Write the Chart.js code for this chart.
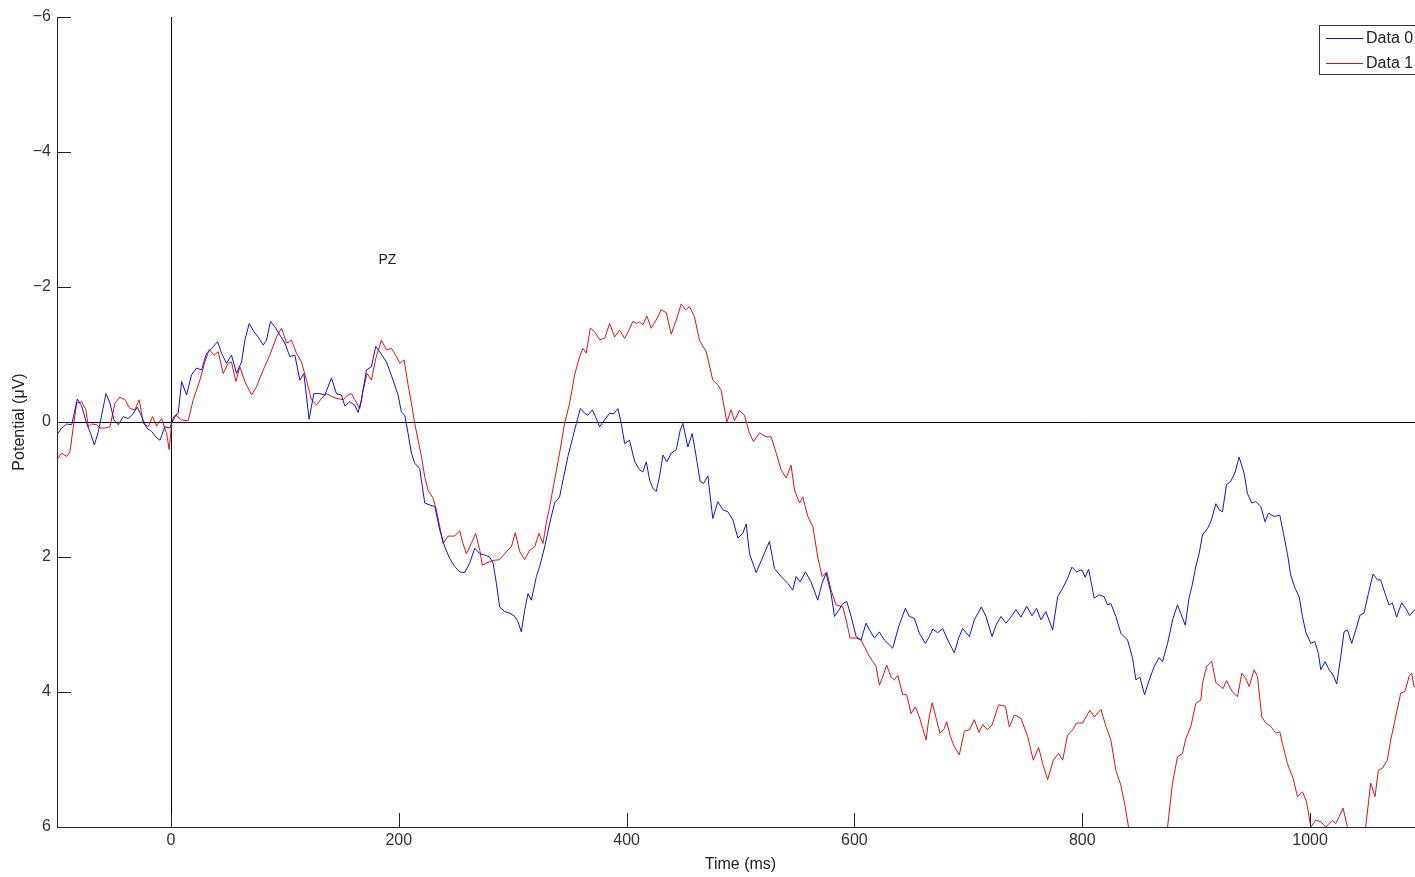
<!DOCTYPE html>
<html>
<head>
<meta charset="utf-8">
<title>PZ</title>
<script src="https://cdn.jsdelivr.net/npm/chart.js@4.4.0/dist/chart.umd.min.js"></script>
<style>
  html, body { margin: 0; padding: 0; background: #fff; overflow: hidden; }
  #wrap { width: 1440px; height: 877px; }
</style>
</head>
<body>
<div id="wrap"><canvas id="erp" width="1440" height="877"></canvas></div>
<script>
// channel + legend names
var channel = 'PZ';
var seriesNames = ['Data 0', 'Data 1'];

// tick labels
var xTicks = [0, 200, 400, 600, 800, 1000];
var yTicks = [-6, -4, -2, 0, 2, 4, 6];

// Data 0 (blue) - time in ms, potential in uV
var time0 = [-100, -95.9, -91.5, -87.1, -82.2, -78.4, -74, -70.5, -67.2, -63.7, -60.8, -57, -53.5, -50, -46.2, -41.8, -37.4, -33, -29.5, -25.7,
  -21.3, -16.9, -13.2, -9.6, -5.3, -0.9, 2.6, 6.4, 9.4, 13.7, 18.1, 22.5, 26.9, 31.3, 35.7, 41, 44.4, 48.8, 53.2, 57.6,
  62, 64.9, 68.7, 72.8, 76.6, 81, 83.9, 87.4, 91.2, 95.6, 100, 104.4, 108.8, 113.2, 116.7, 121.3, 125.4, 130.7, 135.1, 140.9,
  145.3, 149.7, 152.6, 157, 161.4, 164.3, 167.3, 171.6, 176, 179.8, 183.3, 189.2, 195, 199.4, 202.3, 205.3, 208.2, 211.1, 214, 218.4,
  222.8, 227.2, 231.6, 236, 240.4, 244.7, 249.1, 253.5, 257.9, 262.3, 266.7, 271.1, 275.4, 279.8, 282.8, 285.7, 288.6, 293, 297.4, 301.8,
  304.7, 307.6, 310.5, 313.5, 316.4, 320.8, 323.7, 328.1, 332.5, 336.8, 341.2, 344.2, 348.5, 352.9, 355.9, 359.4, 363.2, 366.1, 369.9, 373.4,
  376.3, 380.7, 385.1, 388.6, 392.4, 395.3, 398.3, 402.6, 407, 411.4, 414.3, 417.3, 420.2, 423.1, 426, 428.9, 431.9, 435.4, 439.2, 443.6,
  447.1, 449.4, 453.8, 457.6, 461.1, 464.6, 467.5, 471.3, 475.7, 480.1, 484.5, 488.9, 493.3, 497.7, 502, 505, 507.9, 513.7, 519.6, 525.4,
  529.8, 535.7, 541.5, 545.9, 548.8, 552.3, 557, 562, 567.8, 571.6, 575.1, 579.5, 582.5, 586.3, 589.8, 593.3, 597.1, 601.5, 605.9, 610.2,
  613.2, 617.5, 621.9, 626.3, 633.6, 638.9, 644.7, 648.2, 652.6, 657, 662.3, 665.8, 668.7, 673.1, 677.5, 681.9, 687.7, 691.5, 695, 700.9,
  705.3, 711.4, 715.5, 720.8, 724.3, 728.7, 733, 737.4, 741.8, 746.2, 751.2, 755.9, 759.9, 763.7, 768.1, 774, 778.4, 782.8, 787.1, 790.9,
  795, 799.7, 802.6, 805.6, 810.5, 814.9, 819.3, 822.2, 825.1, 829.5, 833.9, 839.8, 844.2, 847.1, 850.6, 854.7, 858.8, 863.2, 867.5, 870.5,
  874.9, 879.5, 883.6, 886.6, 890.4, 893.6, 896.2, 899.7, 902.6, 905.6, 909.9, 912.9, 917.3, 920.2, 923.1, 926.6, 930.4, 934.2, 937.7, 942.1,
  945, 948.8, 952.3, 956.7, 960.5, 963.5, 968.4, 973.4, 977.2, 980.1, 983, 986.8, 990.4, 993.3, 996.2, 1000.6, 1004.1, 1007.3, 1009.4, 1013.2,
  1016.7, 1020.2, 1023.4, 1026.9, 1029.8, 1032.8, 1036.6, 1040.1, 1043.9, 1047.4, 1051.2, 1055.3, 1059.1, 1062, 1065.8, 1069.3, 1072.2, 1076, 1080.4, 1083.9,
  1087.4, 1091.2, 1100];
var data0 = [0.19, 0.09, 0.03, 0.04, -0.34, -0.24, 0.02, 0.17, 0.34, 0.14, -0.10, -0.42, -0.28, -0.03, 0.04, -0.08, -0.05, -0.13, -0.22, -0.08,
  0.09, 0.14, 0.22, 0.27, 0.07, 0.09, -0.08, -0.13, -0.60, -0.40, -0.70, -0.80, -0.77, -1.02, -1.09, -1.19, -1.02, -0.87, -0.99, -0.72,
  -0.89, -1.21, -1.46, -1.34, -1.26, -1.14, -1.21, -1.49, -1.41, -1.29, -1.17, -0.97, -0.99, -0.62, -0.72, -0.04, -0.42, -0.42, -0.40, -0.65,
  -0.42, -0.40, -0.24, -0.30, -0.25, -0.14, -0.33, -0.77, -0.82, -1.12, -1.04, -0.89, -0.62, -0.40, -0.15, -0.10, 0.17, 0.46, 0.61, 0.69,
  1.20, 1.23, 1.25, 1.60, 1.85, 2.02, 2.14, 2.22, 2.23, 2.09, 1.87, 1.95, 1.97, 2.00, 2.09, 2.39, 2.74, 2.81, 2.83, 2.88,
  2.96, 3.11, 2.79, 2.54, 2.64, 2.29, 2.14, 1.85, 1.50, 1.20, 1.11, 0.86, 0.51, 0.22, 0.02, -0.20, -0.13, -0.10, -0.18, -0.05,
  0.07, -0.03, -0.13, -0.12, -0.20, 0.02, 0.32, 0.27, 0.58, 0.71, 0.74, 0.59, 0.86, 0.98, 1.03, 0.81, 0.49, 0.59, 0.46, 0.41,
  0.12, 0.02, 0.37, 0.17, 0.51, 0.88, 0.91, 0.80, 1.43, 1.18, 1.30, 1.33, 1.45, 1.72, 1.65, 1.51, 1.95, 2.23, 2.00, 1.77,
  2.17, 2.29, 2.39, 2.49, 2.29, 2.37, 2.22, 2.37, 2.64, 2.39, 2.24, 2.54, 2.88, 2.79, 2.69, 2.66, 2.88, 3.18, 3.23, 2.98,
  3.08, 3.20, 3.11, 3.23, 3.35, 3.03, 2.76, 2.88, 2.91, 3.13, 3.28, 3.18, 3.07, 3.12, 3.06, 3.23, 3.42, 3.20, 3.06, 3.18,
  2.93, 2.74, 2.88, 3.18, 3.01, 2.88, 2.98, 2.89, 2.78, 2.89, 2.73, 2.87, 2.76, 2.93, 2.81, 3.08, 2.59, 2.46, 2.32, 2.15,
  2.22, 2.19, 2.30, 2.18, 2.61, 2.56, 2.59, 2.71, 2.69, 2.88, 3.13, 3.23, 3.50, 3.82, 3.78, 4.04, 3.82, 3.62, 3.49, 3.55,
  3.28, 2.92, 2.71, 2.84, 3.01, 2.62, 2.44, 2.14, 1.95, 1.67, 1.58, 1.48, 1.21, 1.30, 1.33, 0.93, 0.88, 0.74, 0.52, 0.76,
  1.06, 1.20, 1.18, 1.25, 1.48, 1.35, 1.40, 1.38, 1.70, 1.95, 2.27, 2.46, 2.59, 2.88, 3.11, 3.28, 3.25, 3.43, 3.67, 3.55,
  3.67, 3.75, 3.88, 3.48, 3.11, 3.08, 3.28, 3.08, 2.86, 2.83, 2.54, 2.25, 2.34, 2.34, 2.54, 2.71, 2.68, 2.89, 2.68, 2.76,
  2.87, 2.79, 2.75];

// Data 1 (red)
var time1 = [-100, -95.9, -91.5, -88.6, -85.7, -82.7, -78.4, -74.6, -72.5, -69.6, -65.2, -62.3, -57.9, -53.5, -49.1, -44.7, -40.4, -36, -31.6, -27.8,
  -24.3, -19.9, -16.1, -12.6, -8.2, -3.8, -1.5, 0.6, 4.4, 9.4, 15.2, 19.6, 25.4, 29.8, 33.6, 38, 41.5, 45.9, 50.3, 53.2,
  57, 60.5, 64.9, 70.8, 75.1, 81, 86.8, 92.7, 97.1, 101.5, 105.8, 110.2, 114.6, 119, 123.4, 127.8, 132.2, 136.6, 140.9, 145.3,
  151.2, 155, 158.5, 161.4, 165.8, 168.7, 172.2, 176, 179.8, 184.8, 189.2, 193.6, 198, 200.9, 204.7, 208.2, 211.1, 214, 217, 219.9,
  222.8, 225.7, 230.1, 233, 236, 238.9, 243.3, 249.1, 253.5, 256.4, 259.4, 263.7, 267.5, 271.1, 273.4, 276.9, 282.8, 288.6, 294.5, 298.8,
  302.3, 306.2, 310.5, 314.9, 319.3, 323.1, 326.6, 329.5, 332.5, 336.8, 341.2, 345.6, 350, 354.4, 358.8, 361.7, 364.6, 368.1, 371.9, 376.3,
  380.7, 385.1, 389.5, 393.9, 398.3, 402.6, 405.6, 408.5, 411.4, 414.3, 417.8, 421.6, 426, 430.4, 434.8, 439.2, 443.6, 448, 451.8, 455.3,
  459.6, 464, 469.9, 475.7, 480.1, 483, 488, 491.8, 494.7, 499.1, 503.5, 507.9, 511.4, 516.7, 522.5, 526.9, 531.3, 535.7, 540.1, 544.4,
  547.4, 551.8, 554.7, 559.1, 563.5, 567.8, 571.6, 575.7, 579.5, 583.9, 589.8, 592.7, 596.2, 601.4, 605.8, 608.8, 611.7, 616.1, 619, 621.9,
  624.8, 628.3, 632.2, 635.1, 638, 642.4, 645.9, 649.7, 653.5, 657, 659.9, 662.9, 665.2, 668.3, 671.6, 675.1, 678.9, 681, 684.3, 687.7,
  692.1, 696.5, 700.9, 705.2, 709.4, 712.6, 716.5, 720.8, 726.6, 732.5, 736, 740.4, 746.2, 752.1, 757, 761.7, 765.2, 769.6, 774.6, 779.2,
  782.8, 787.1, 791.5, 795, 800.3, 806.7, 810.5, 816.4, 820.8, 825.1, 829.5, 833.9, 837.7, 840.6, 848, 858, 868, 874.9, 879.2, 883.6,
  888, 890.9, 895.3, 899.7, 904.1, 905.6, 909.1, 913.7, 917.3, 921.6, 923.7, 926.6, 931.9, 936.3, 940.1, 943.6, 946.5, 950.9, 953.8, 957.6,
  961.1, 965.5, 969.9, 973.4, 975.7, 980.1, 985.1, 988.9, 993.3, 996.8, 1000.6, 1005, 1009.4, 1013.7, 1019.6, 1022.5, 1025.4, 1028.9, 1032.8, 1040,
  1048.8, 1053.2, 1057, 1059.9, 1063.5, 1067.8, 1070.8, 1075.1, 1079.5, 1083.3, 1086.9, 1089.2, 1091.2, 1100];
var data1 = [0.56, 0.46, 0.51, 0.44, 0.07, -0.28, -0.30, -0.18, 0.07, 0.03, 0.04, 0.09, 0.09, 0.07, -0.28, -0.37, -0.33, -0.20, -0.18, -0.33,
  0.02, 0.07, -0.08, 0.06, -0.05, 0.17, 0.41, 0.02, -0.10, -0.03, -0.02, -0.33, -0.62, -0.89, -1.07, -0.99, -1.04, -0.72, -0.87, -0.89,
  -0.60, -0.82, -0.60, -0.40, -0.52, -0.77, -0.99, -1.26, -1.39, -1.17, -1.21, -1.02, -0.89, -0.62, -0.33, -0.25, -0.35, -0.42, -0.38, -0.35,
  -0.33, -0.40, -0.42, -0.33, -0.20, -0.47, -0.72, -0.62, -0.94, -1.21, -1.07, -1.09, -0.97, -0.87, -0.92, -0.55, -0.28, 0.02, 0.27, 0.51,
  0.81, 1.01, 1.13, 1.30, 1.55, 1.80, 1.69, 1.69, 1.61, 1.80, 1.95, 1.80, 1.65, 1.90, 2.12, 2.09, 2.05, 2.04, 1.92, 1.85,
  1.64, 1.92, 2.04, 1.90, 1.85, 1.65, 1.80, 1.50, 1.25, 0.86, 0.46, 0.02, -0.28, -0.70, -0.97, -1.09, -1.02, -1.39, -1.34, -1.22,
  -1.24, -1.46, -1.26, -1.36, -1.24, -1.38, -1.49, -1.46, -1.48, -1.44, -1.57, -1.39, -1.51, -1.66, -1.62, -1.30, -1.51, -1.75, -1.66, -1.71,
  -1.56, -1.21, -1.04, -0.62, -0.55, -0.47, 0.00, -0.18, -0.02, -0.17, -0.10, 0.17, 0.29, 0.16, 0.22, 0.22, 0.46, 0.71, 0.83, 0.64,
  1.01, 1.20, 1.11, 1.40, 1.55, 2.00, 2.29, 2.22, 2.49, 2.71, 2.74, 2.93, 3.20, 3.20, 3.23, 3.33, 3.43, 3.55, 3.62, 3.90,
  3.78, 3.60, 3.78, 3.82, 3.75, 4.04, 4.04, 4.32, 4.22, 4.37, 4.54, 4.71, 4.41, 4.16, 4.38, 4.61, 4.54, 4.44, 4.66, 4.81,
  4.93, 4.58, 4.56, 4.41, 4.60, 4.48, 4.56, 4.49, 4.19, 4.21, 4.52, 4.34, 4.39, 4.66, 5.01, 4.82, 5.06, 5.30, 5.01, 4.91,
  5.01, 4.64, 4.56, 4.46, 4.46, 4.27, 4.37, 4.26, 4.51, 4.71, 5.16, 5.38, 5.70, 6.00, 6.40, 6.60, 6.40, 6.00, 5.35, 4.96,
  4.91, 4.69, 4.51, 4.17, 4.12, 3.87, 3.62, 3.55, 3.86, 3.92, 3.95, 3.83, 4.00, 4.07, 3.72, 3.80, 3.92, 3.67, 3.77, 4.37,
  4.46, 4.51, 4.61, 4.59, 4.76, 5.06, 5.28, 5.55, 5.48, 5.62, 6.00, 5.90, 5.92, 6.00, 5.90, 5.95, 5.85, 5.72, 6.00, 6.30,
  6.00, 5.35, 5.55, 5.16, 5.13, 5.01, 4.71, 4.37, 4.02, 3.99, 3.77, 3.72, 3.92, 3.90];

var FONT = 'Liberation Sans, Arial, sans-serif';

function toPoints(ts, vs) {
  return ts.map(function (t, i) { return { x: t, y: vs[i] }; });
}

// zero lines, inward ticks, PZ label and the matlab style legend box
var matlabBits = {
  id: 'matlabBits',
  beforeDatasetsDraw: function (chart) {
    var ctx = chart.ctx, a = chart.chartArea;
    var xs = chart.scales.x, ys = chart.scales.y;
    ctx.save();
    ctx.strokeStyle = '#000';
    ctx.lineWidth = 1;
    var x0 = Math.round(xs.getPixelForValue(0)) + 0.5;
    var y0 = Math.round(ys.getPixelForValue(0)) + 0.5;
    ctx.beginPath();
    ctx.moveTo(x0, a.top); ctx.lineTo(x0, a.bottom);
    ctx.moveTo(a.left, y0); ctx.lineTo(a.right, y0);
    ctx.stroke();
    ctx.restore();
  },
  afterDraw: function (chart) {
    var ctx = chart.ctx, a = chart.chartArea;
    var xs = chart.scales.x, ys = chart.scales.y;
    ctx.save();
    // ticks point inwards
    ctx.strokeStyle = '#262626';
    ctx.lineWidth = 1;
    ctx.beginPath();
    yTicks.forEach(function (v) {
      var py = Math.round(ys.getPixelForValue(v)) + 0.5;
      ctx.moveTo(a.left, py); ctx.lineTo(a.left + 14, py);
    });
    xTicks.forEach(function (v) {
      var px = Math.round(xs.getPixelForValue(v)) + 0.5;
      ctx.moveTo(px, a.bottom); ctx.lineTo(px, a.bottom - 14);
    });
    ctx.stroke();

    // channel name
    ctx.fillStyle = '#222';
    ctx.font = '14px ' + FONT;
    ctx.textAlign = 'center';
    ctx.textBaseline = 'middle';
    ctx.fillText(channel, xs.getPixelForValue(190), ys.getPixelForValue(-2.4));

    // legend
    var lx = 1319, ly = 25;
    ctx.fillStyle = '#fff';
    ctx.fillRect(lx, ly, 130, 49);
    ctx.strokeStyle = '#333';
    ctx.strokeRect(lx + 0.5, ly + 0.5, 130, 49);
    var cols = chart.data.datasets.map(function (d) { return d.borderColor; });
    ctx.font = '16px ' + FONT;
    ctx.textAlign = 'left';
    seriesNames.forEach(function (name, i) {
      var yy = ly + 13 + i * 25 + 0.5;
      ctx.strokeStyle = cols[i];
      ctx.beginPath();
      ctx.moveTo(lx + 7, yy); ctx.lineTo(lx + 44, yy);
      ctx.stroke();
      ctx.fillStyle = '#222';
      ctx.fillText(name, lx + 47, yy);
    });
    ctx.restore();
  }
};

new Chart(document.getElementById('erp').getContext('2d'), {
  type: 'line',
  data: {
    datasets: [
      { label: seriesNames[0], data: toPoints(time0, data0), borderColor: '#1010e0', borderWidth: 1, pointRadius: 0, tension: 0, fill: false },
      { label: seriesNames[1], data: toPoints(time1, data1), borderColor: '#e01010', borderWidth: 1, pointRadius: 0, tension: 0, fill: false }
    ]
  },
  options: {
    responsive: false,
    animation: false,
    events: [],
    layout: { padding: { top: 17, right: 16, left: 0, bottom: 0 } },
    plugins: { legend: { display: false }, tooltip: { enabled: false } },
    scales: {
      x: {
        type: 'linear',
        min: -100,
        max: 1100,
        afterBuildTicks: function (s) { s.ticks = xTicks.map(function (v) { return { value: v }; }); },
        afterFit: function (s) { s.height = 50; },
        grid: { display: false, drawTicks: false, tickLength: 0 },
        border: { display: true, color: '#262626', width: 1 },
        ticks: {
          color: '#333', font: { family: FONT, size: 16 }, padding: 4, maxRotation: 0, autoSkip: false,
          callback: function (v) { return String(v); }
        },
        title: { display: true, text: 'Time (ms)', color: '#222', font: { family: FONT, size: 16 }, padding: { top: 0, bottom: 3 } }
      },
      y: {
        type: 'linear',
        reverse: true,
        min: -6,
        max: 6,
        afterBuildTicks: function (s) { s.ticks = yTicks.map(function (v) { return { value: v }; }); },
        afterFit: function (s) { s.width = 57; },
        grid: { display: false, drawTicks: false, tickLength: 0 },
        border: { display: true, color: '#262626', width: 1 },
        ticks: {
          color: '#333', font: { family: FONT, size: 16 }, padding: 6, autoSkip: false,
          callback: function (v) { return v < 0 ? '\u2212' + Math.abs(v) : String(v); }
        },
        title: { display: true, text: 'Potential (\u03bcV)', color: '#222', font: { family: FONT, size: 16 }, padding: { top: 10, bottom: 0 } }
      }
    }
  },
  plugins: [matlabBits]
});
</script>
</body>
</html>
